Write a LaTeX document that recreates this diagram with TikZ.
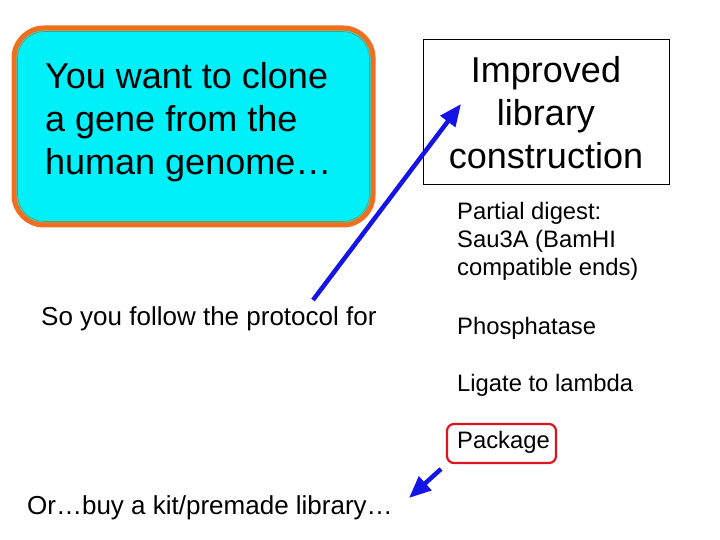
\documentclass[tikz,border=0pt]{standalone}
\usepackage{fontspec}
\setmainfont{Liberation Sans}
\usetikzlibrary{arrows.meta}
\definecolor{boxorange}{RGB}{240,110,30}
\definecolor{boxcyan}{RGB}{0,240,250}
\definecolor{arrowblue}{RGB}{20,20,230}
\definecolor{pkgred}{RGB}{220,20,30}
\tikzset{
  bigtext/.style={font=\fontsize{36}{43}\selectfont, inner sep=0pt},
  smalltext/.style={font=\fontsize{23.8}{28}\selectfont, inner sep=0pt, anchor=west},
  lefttext/.style={font=\fontsize{26}{30}\selectfont, inner sep=0pt, anchor=west},
  bluearrow/.style={draw=arrowblue, line width=4.5pt, -{Triangle[length=22pt,width=18pt]}}
}
\begin{document}
\begin{tikzpicture}[x=1pt,y=-1pt]
\useasboundingbox (0,0) rectangle (720,540);
% cyan rounded box
\draw[boxorange, line width=5pt, fill=boxcyan, rounded corners=30pt] (14,28) rectangle (373,225);
\draw[olive!60!gray, line width=0.6pt, rounded corners=27pt] (17.5,31.5) rectangle (369.5,221.5);
\node[bigtext, anchor=west, align=left] (clone) at (45,122) {You want to clone\\a gene from the\\human genome\ldots};
% improved library box
\node[draw=black, line width=0.7pt, minimum width=246pt, minimum height=145pt, inner sep=0pt] (impbox) at (546,111.5) {};
\node[bigtext, align=center] (imp) at (546,113) {Improved\\library\\construction};
% small texts
\node[smalltext, align=left] (partial) at (457,241) {Partial digest:\\Sau3A (BamHI\\compatible ends)};
\node[lefttext] (follow) at (41,319) {So you follow the protocol for};
\node[smalltext] (phos) at (457,328) {Phosphatase};
\node[smalltext] (ligate) at (457,385) {Ligate to lambda};
\node[smalltext] (pack) at (457,442) {Package};
\draw[pkgred, line width=2.2pt, rounded corners=7pt] (447,424) rectangle (556,463);
\node[lefttext] (buy) at (27,508) {Or\ldots buy a kit/premade library\ldots};
% arrows
\coordinate (a1s) at (313,300);
\coordinate (a1e) at (461,104);
\draw[bluearrow] (a1s) -- (a1e);
\coordinate (a2s) at (441,469);
\coordinate (a2e) at (409,498);
\draw[bluearrow] (a2s) -- (a2e);
\end{tikzpicture}
\end{document}
